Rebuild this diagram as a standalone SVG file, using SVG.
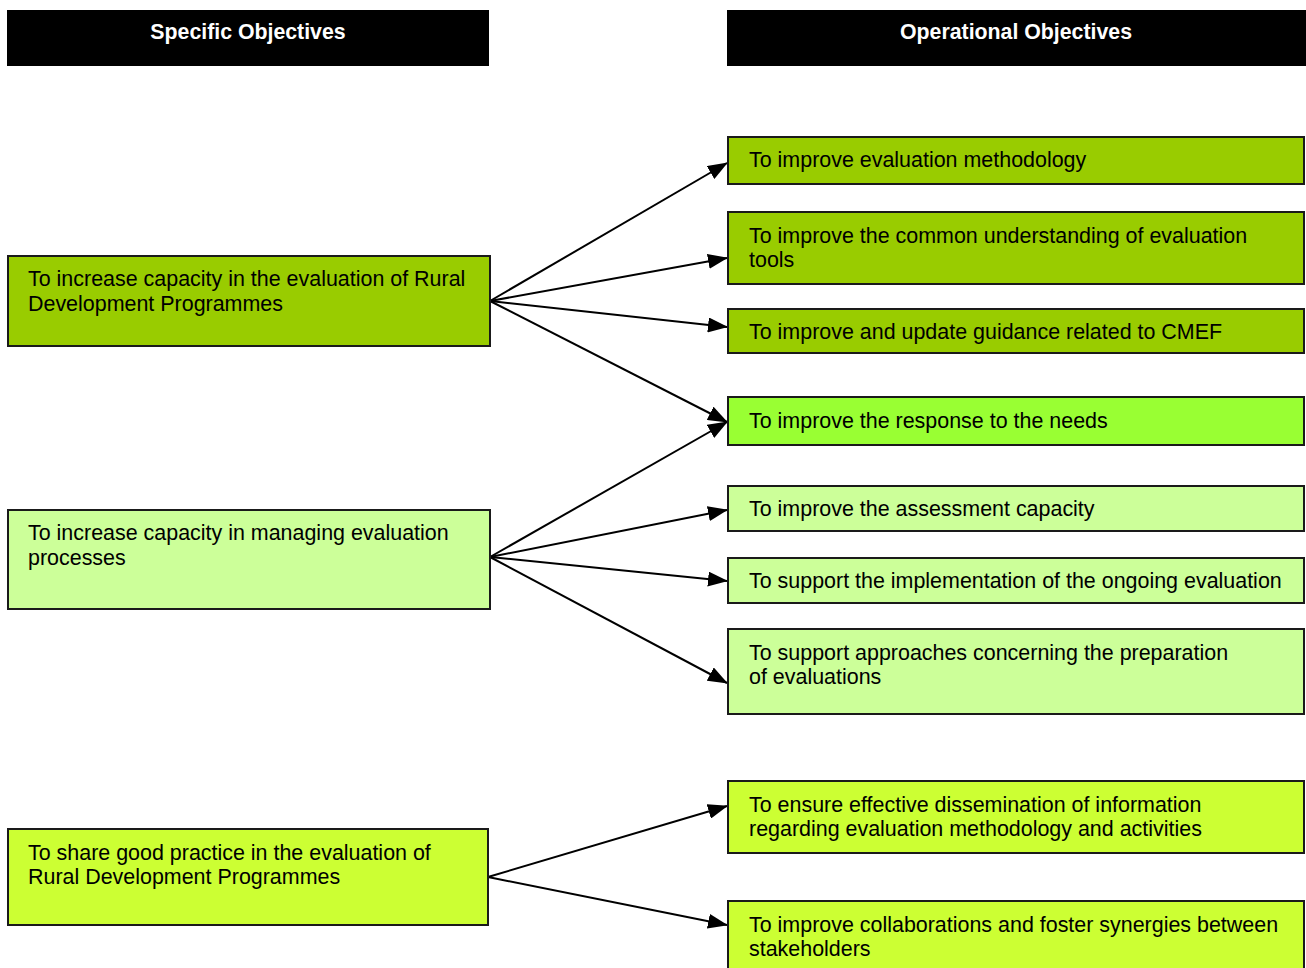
<svg xmlns="http://www.w3.org/2000/svg" width="1306" height="968" viewBox="0 0 1306 968">
<defs>
<style>
.hdr{fill:#000}
.ht{fill:#fff;font-family:"Liberation Sans",Arial,sans-serif;font-size:21.3px;font-weight:bold;text-anchor:middle}
.box{stroke:#1a1a1a;stroke-width:2}
.t{fill:#000;font-family:"Liberation Sans",Arial,sans-serif;font-size:21.45px}
.a{stroke:#000;stroke-width:2;fill:none;marker-end:url(#ah)}
.g1{fill:#99CC00}.g2{fill:#CCFF99}.g3{fill:#CCFF33}.g4{fill:#99FF33}
</style>
<marker id="ah" markerUnits="userSpaceOnUse" markerWidth="20" markerHeight="15" viewBox="0 0 20 15" refX="19" refY="7.5" orient="auto">
<path d="M0,0 L20,7.5 L0,15 Z" fill="#000"/>
</marker>
</defs>
<rect width="1306" height="968" fill="#fff"/>
<g id="hdr-specific"><rect class="hdr" x="7" y="10" width="482" height="56"/><text class="ht" x="248" y="39">Specific Objectives</text></g>
<g id="hdr-operational"><rect class="hdr" x="727" y="10" width="579" height="56"/><text class="ht" x="1016" y="39">Operational Objectives</text></g>
<g id="connectors">
<line class="a" x1="490" y1="301" x2="727" y2="163"/>
<line class="a" x1="490" y1="301" x2="727" y2="258"/>
<line class="a" x1="490" y1="301" x2="727" y2="327"/>
<line class="a" x1="490" y1="301" x2="727" y2="422"/>
<line class="a" x1="490" y1="557" x2="727" y2="422"/>
<line class="a" x1="490" y1="557" x2="727" y2="510"/>
<line class="a" x1="490" y1="557" x2="727" y2="581"/>
<line class="a" x1="490" y1="557" x2="727" y2="683"/>
<line class="a" x1="488" y1="877" x2="727" y2="806"/>
<line class="a" x1="488" y1="877" x2="727" y2="925"/>
</g>
<g id="s1"><rect class="box g1" x="8" y="256" width="482" height="90"/><text class="t" x="28" y="286">To increase capacity in the evaluation of Rural</text><text class="t" x="28" y="311">Development Programmes</text></g>
<g id="s2"><rect class="box g2" x="8" y="510" width="482" height="99"/><text class="t" x="28" y="540">To increase capacity in managing evaluation</text><text class="t" x="28" y="565">processes</text></g>
<g id="s3"><rect class="box g3" x="8" y="829" width="480" height="96"/><text class="t" x="28" y="860">To share good practice in the evaluation of</text><text class="t" x="28" y="884">Rural Development Programmes</text></g>
<g id="o1"><rect class="box g1" x="728" y="137" width="576" height="47"/><text class="t" x="749" y="167">To improve evaluation methodology</text></g>
<g id="o2"><rect class="box g1" x="728" y="212" width="576" height="72"/><text class="t" x="749" y="243">To improve the common understanding of evaluation</text><text class="t" x="749" y="267">tools</text></g>
<g id="o3"><rect class="box g1" x="728" y="309" width="576" height="44"/><text class="t" x="749" y="339">To improve and update guidance related to CMEF</text></g>
<g id="o4"><rect class="box g4" x="728" y="397" width="576" height="48"/><text class="t" x="749" y="428">To improve the response to the needs</text></g>
<g id="o5"><rect class="box g2" x="728" y="486" width="576" height="45"/><text class="t" x="749" y="516">To improve the assessment capacity</text></g>
<g id="o6"><rect class="box g2" x="728" y="558" width="576" height="45"/><text class="t" x="749" y="588">To support the implementation of the ongoing evaluation</text></g>
<g id="o7"><rect class="box g2" x="728" y="629" width="576" height="85"/><text class="t" x="749" y="660">To support approaches concerning the preparation</text><text class="t" x="749" y="684">of evaluations</text></g>
<g id="o8"><rect class="box g3" x="728" y="781" width="576" height="72"/><text class="t" x="749" y="812">To ensure effective dissemination of information</text><text class="t" x="749" y="836">regarding evaluation methodology and activities</text></g>
<g id="o9"><rect class="box g3" x="728" y="901" width="576" height="70"/><text class="t" x="749" y="932">To improve collaborations and foster synergies between</text><text class="t" x="749" y="956">stakeholders</text></g>
</svg>
